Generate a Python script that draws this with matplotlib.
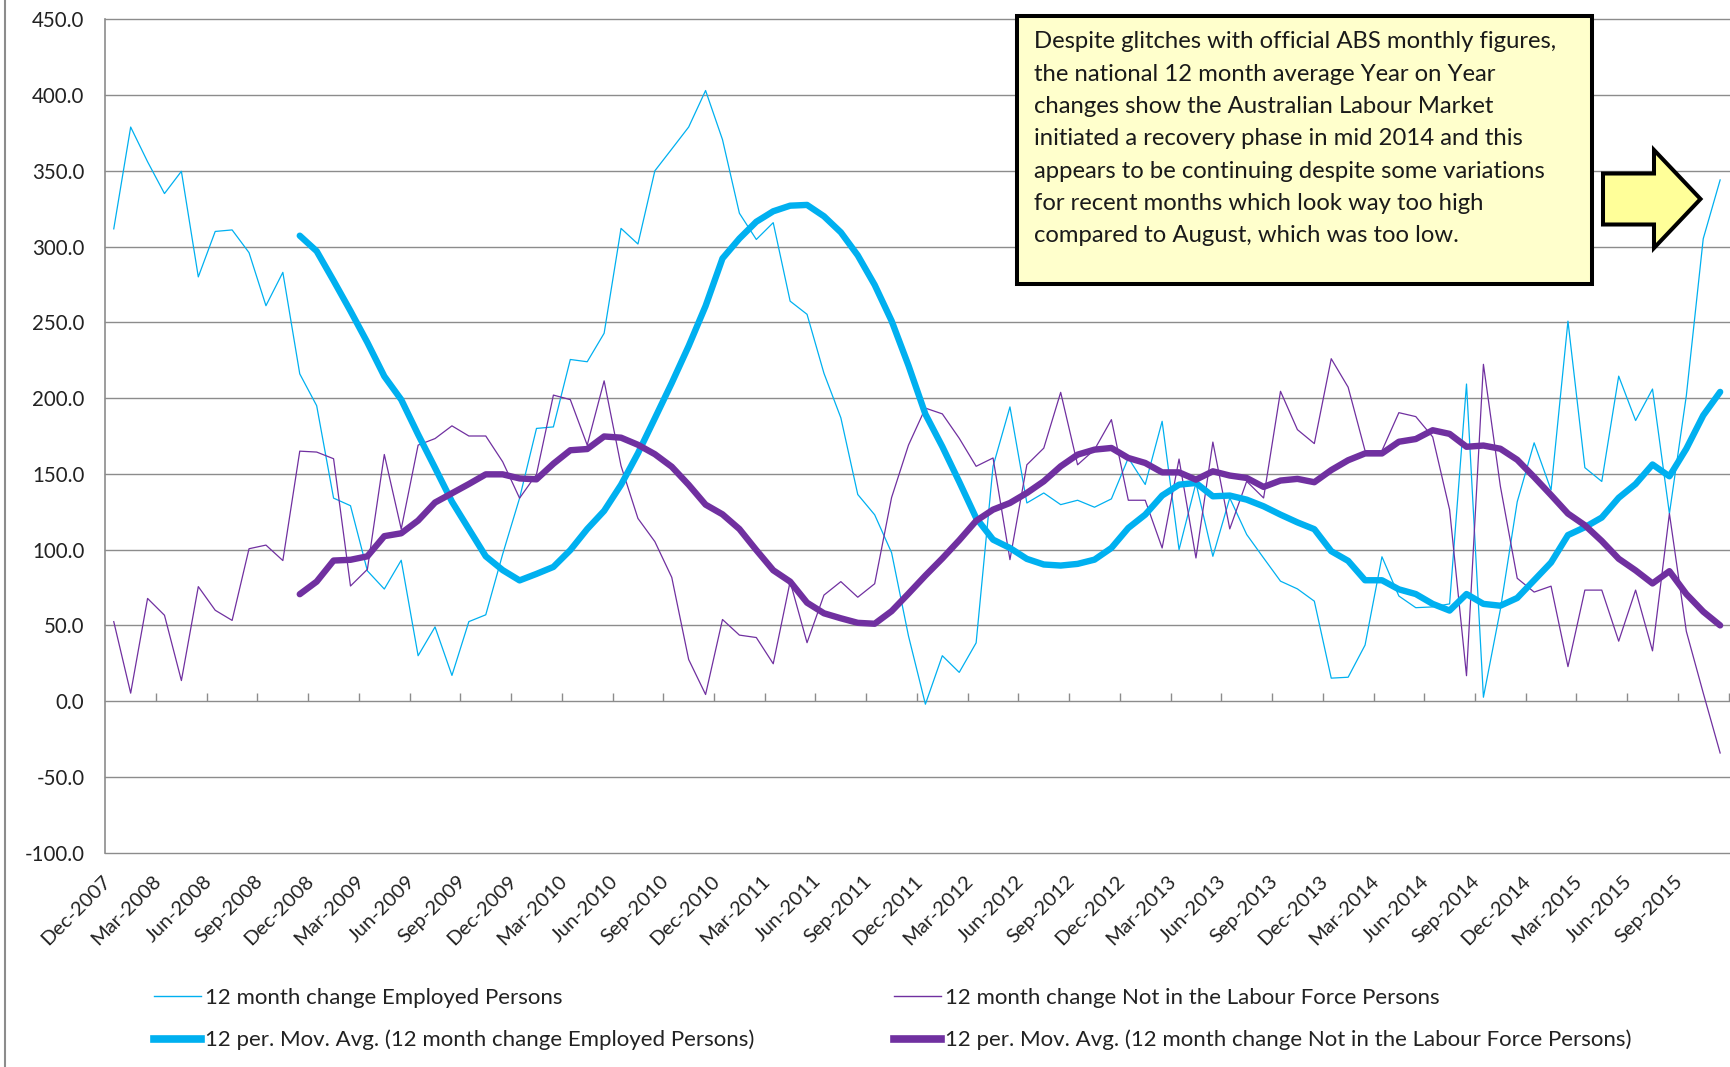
import matplotlib.pyplot as plt
from matplotlib.lines import Line2D
from matplotlib.patches import Polygon, Rectangle
import numpy as np
import pandas as pd

# monthly categories, Dec-2007 .. Nov-2015
months = pd.date_range('2007-12-01', periods=96, freq='MS').strftime('%b-%Y').tolist()

# 12 month change, Employed Persons ('000)
emp = [311.7, 378.9, 356.0, 335.0, 349.7, 280.0, 310.0, 311.0, 296.0, 261.0, 283.0, 216.0,
       195.0, 134.0, 129.0, 86.0, 74.0, 93.0, 30.0, 49.0, 17.0, 52.5, 57.0, 97.0,
       134.0, 180.0, 181.0, 225.5, 224.0, 242.8, 312.0, 301.7, 350.0, 364.4, 378.9, 403.0,
       370.6, 322.0, 304.7, 315.8, 264.0, 255.3, 216.4, 187.0, 136.4, 123.0, 98.0, 43.0,
       -2.0, 30.0, 19.0, 38.5, 155.0, 194.2, 130.8, 137.4, 129.7, 132.6, 128.0, 133.5,
       160.5, 143.0, 184.7, 100.0, 144.0, 95.6, 134.1, 110.0, 94.5, 79.2, 74.1, 66.0,
       15.2, 15.8, 37.0, 95.3, 69.4, 61.7, 62.2, 64.2, 209.3, 2.6, 60.4, 131.6,
       170.5, 139.4, 250.8, 154.1, 145.0, 214.5, 185.2, 206.0, 123.8, 201.6, 305.2, 344.0]

# 12 month change, Not in the Labour Force Persons ('000)
nilf = [52.5, 5.3, 67.8, 56.7, 13.6, 75.6, 60.0, 53.3, 100.6, 103.0, 92.8, 165.0,
        164.4, 160.0, 76.0, 87.0, 162.8, 113.6, 169.0, 173.3, 181.7, 175.0, 175.0, 158.0,
        134.0, 149.7, 202.0, 199.0, 169.0, 211.4, 155.3, 120.6, 105.3, 81.7, 27.5, 4.4,
        53.9, 43.6, 42.0, 24.7, 78.9, 38.6, 70.0, 78.9, 68.6, 77.5, 134.4, 169.0,
        193.4, 189.6, 173.5, 155.0, 160.5, 93.4, 156.0, 167.0, 203.8, 156.0, 166.0, 185.8,
        132.6, 132.6, 101.1, 159.8, 94.5, 171.0, 113.7, 145.1, 134.1, 204.5, 179.2, 170.0,
        226.0, 207.2, 165.3, 165.3, 190.4, 187.8, 174.4, 126.4, 16.8, 222.3, 142.0, 81.1,
        72.0, 75.9, 22.8, 73.3, 73.3, 39.6, 73.3, 33.2, 123.8, 46.1, 5.4, -34.2]

# 12 per. moving averages (from Nov-2008 on)
MA_START = 11
emp_ma = [307.2, 297.0, 277.5, 257.5, 236.7, 214.4, 199.0, 176.0, 154.0, 131.7, 113.6, 95.6, 86.5,
          79.7, 84.0, 88.6, 99.7, 113.6, 125.6, 142.8, 163.6, 186.7, 210.0, 234.4, 260.8,
          292.2, 305.3, 316.4, 323.3, 327.0, 327.5, 320.0, 309.4, 294.2, 274.7, 251.0, 221.5,
          189.4, 168.0, 144.8, 120.9, 106.6, 101.1, 93.9, 90.2, 89.5, 90.6, 93.4, 101.1,
          114.3, 123.1, 135.7, 142.9, 144.0, 135.2, 135.7, 133.0, 128.6, 123.1, 118.0, 113.5,
          99.0, 92.6, 79.8, 79.8, 73.8, 70.7, 64.2, 59.8, 70.7, 64.2, 63.0, 68.1,
          79.8, 91.5, 109.6, 114.8, 121.2, 134.2, 143.3, 156.2, 148.4, 166.6, 188.6, 204.1]
nilf_ma = [70.6, 78.9, 92.8, 93.3, 95.6, 108.9, 110.8, 119.2, 131.1, 137.2, 143.3, 149.7, 149.7,
           147.0, 146.4, 156.7, 165.6, 166.4, 174.7, 173.9, 169.2, 163.0, 154.7, 142.8, 129.7,
           123.3, 113.6, 99.7, 86.4, 78.9, 65.0, 58.0, 54.7, 51.7, 51.1, 59.4, 71.0,
           82.9, 94.2, 106.2, 119.0, 126.4, 130.8, 137.4, 145.1, 155.0, 162.7, 166.0, 167.1,
           160.5, 157.2, 151.0, 151.0, 146.2, 151.7, 148.9, 147.3, 141.4, 145.6, 146.7, 144.5,
           152.5, 159.0, 163.5, 163.5, 171.2, 173.0, 178.8, 176.4, 167.9, 168.7, 166.6, 159.3,
           147.9, 136.0, 123.8, 116.1, 105.7, 94.0, 86.3, 77.7, 85.8, 70.7, 59.1, 50.0]

note_lines = [
    "Despite glitches with official ABS monthly figures,",
    "the national 12 month average Year on Year",
    "changes show the Australian Labour Market",
    "initiated a recovery phase in mid 2014 and this",
    "appears to be continuing despite some variations",
    "for recent months which look way too high",
    "compared to August, which was too low.",
]

CYAN = '#00B0F0'
PURPLE = '#7030A0'
GRID = '#8c8c8c'
TXT = '#222222'

plt.rcParams['font.family'] = ['Lato', 'DejaVu Sans']

W, H = 1730, 1067
fx = lambda px: px / W
fy = lambda py: 1 - py / H

fig = plt.figure(figsize=(W / 100, H / 100), dpi=100)
ax = fig.add_axes([fx(105.3), fy(852.7), (1728.6 - 105.3) / W, (852.7 - 19.3) / H])

x = np.arange(len(months))
xm = x[MA_START:]
l1, = ax.plot(x, emp, color=CYAN, lw=0.9, label='12 month change Employed Persons')
l2, = ax.plot(x, nilf, color=PURPLE, lw=0.9, label='12 month change Not in the Labour Force Persons')
l3, = ax.plot(xm, emp_ma, color=CYAN, lw=4.6, solid_capstyle='round', solid_joinstyle='round',
              label='12 per. Mov. Avg. (12 month change Employed Persons)')
l4, = ax.plot(xm, nilf_ma, color=PURPLE, lw=4.6, solid_capstyle='round', solid_joinstyle='round',
              label='12 per. Mov. Avg. (12 month change Not in the Labour Force Persons)')

ax.set_xlim(-0.5, len(months) - 0.5)
ax.set_ylim(-100, 450)
ax.set_yticks(np.arange(-100, 451, 50))
ax.set_yticklabels([f'{v:.1f}' for v in np.arange(-100, 451, 50)])
ax.yaxis.grid(True, color=GRID, lw=1.0)
for gl in ax.get_ygridlines():
    gl.set_clip_on(False)
ax.set_axisbelow(True)

ax.set_xticks(x[::3])
ax.set_xticklabels(months[::3], rotation=45, ha='right', va='top')
ax.tick_params(axis='x', length=0, pad=14, labelsize=14.5, labelcolor=TXT)
ax.tick_params(axis='y', length=0, pad=15, labelsize=14.8, labelcolor=TXT)

for s in ['top', 'right', 'bottom']:
    ax.spines[s].set_visible(False)
ax.spines['left'].set_color(GRID)
ax.spines['left'].set_linewidth(1.2)

# tick marks between categories, sitting on the zero line
sec = ax.secondary_xaxis(100 / 550)
sec.set_xticks(np.arange(2.5, len(months), 3))
sec.tick_params(direction='in', length=6, width=1, color=GRID, labelbottom=False, labeltop=False)
for s in sec.spines.values():
    s.set_visible(False)

# legends
lkw = dict(frameon=False, fontsize=16, handlelength=2.1, handletextpad=0.2,
           labelspacing=1.0, borderpad=0, borderaxespad=0, labelcolor=TXT)
h_emp = [Line2D([], [], color=CYAN, lw=1.0), Line2D([], [], color=CYAN, lw=5.5)]
h_nilf = [Line2D([], [], color=PURPLE, lw=1.0), Line2D([], [], color=PURPLE, lw=5.5)]
fig.legend(h_emp, [l1.get_label(), l3.get_label()], loc='upper left',
           bbox_to_anchor=(fx(154), fy(987.5)), **lkw)
fig.legend(h_nilf, [l2.get_label(), l4.get_label()], loc='upper left',
           bbox_to_anchor=(fx(894), fy(987.5)), **lkw)

# note box
fig.patches.append(Rectangle((fx(1017), fy(283.7)), fx(1591.6) - fx(1017), fy(16) - fy(283.7),
                             transform=fig.transFigure, facecolor='#FFFFCC', edgecolor='black',
                             lw=2.9, joinstyle='miter', zorder=5))
for i, line in enumerate(note_lines):
    fig.text(fx(1034), fy(48.3 + 32.33 * i), line, fontsize=17.2, color='#1a1a1a',
             va='baseline', ha='left', zorder=6)

# block arrow
arrow_px = [(1603, 173.5), (1654, 173.5), (1654, 150), (1700.5, 199), (1654, 248),
            (1654, 224.5), (1603, 224.5)]
fig.patches.append(Polygon([(fx(a), fy(b)) for a, b in arrow_px], closed=True,
                           transform=fig.transFigure, facecolor='#FFFF99',
                           edgecolor='black', lw=2.9, joinstyle='miter', zorder=5))

# chart area border on the far left
fig.add_artist(Line2D([fx(4.6), fx(4.6)], [0, 1], transform=fig.transFigure, color=GRID, lw=1.5))

fig.savefig('out.png', dpi=100)
